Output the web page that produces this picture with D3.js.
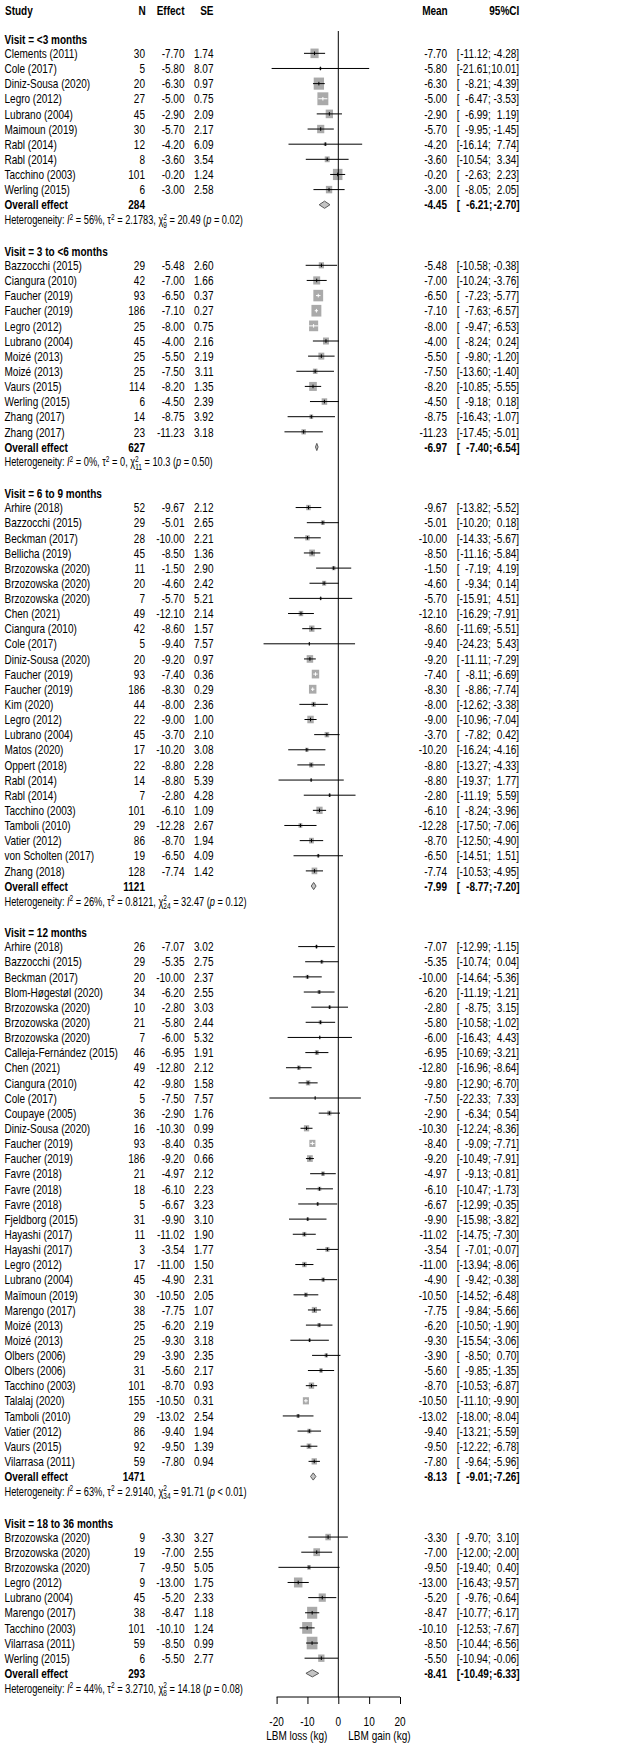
<!DOCTYPE html>
<html><head><meta charset="utf-8">
<script src="https://cdn.jsdelivr.net/npm/d3@7"></script>
<style>html,body{margin:0;padding:0;background:#fff}svg{display:block;font-family:"Liberation Sans",Arial,Helvetica,sans-serif}</style>
</head><body><svg id="c" width="626" height="1745"></svg>
<script>
// ---------- data ----------
const groupLabels = ["Visit = <3 months","Visit = 3 to <6 months","Visit = 6 to 9 months","Visit = 12 months","Visit = 18 to 36 months"];
const groupN = [284, 627, 1121, 1471, 293];
const groupMean = [-4.45, -6.97, -7.99, -8.13, -8.41];
const groupLower = [-6.21, -7.40, -8.77, -9.01, -10.49];
const groupUpper = [-2.70, -6.54, -7.20, -7.26, -6.33];
const groupI2 = ["56%", "0%", "26%", "63%", "44%"];
const groupTau2 = ["2.1783", "0", "0.8121", "2.9140", "3.2710"];
const groupDf = ["9", "11", "24", "34", "8"];
const groupChi2 = ["20.49", "10.3", "32.47", "91.71", "14.18"];
const groupP = ["= 0.02", "= 0.50", "= 0.12", "< 0.01", "= 0.08"];

const studyGroup = [
 0,0,0,0,0,0,0,0,0,0,
 1,1,1,1,1,1,1,1,1,1,1,1,
 2,2,2,2,2,2,2,2,2,2,2,2,2,2,2,2,2,2,2,2,2,2,2,2,2,
 3,3,3,3,3,3,3,3,3,3,3,3,3,3,3,3,3,3,3,3,3,3,3,3,3,3,3,3,3,3,3,3,3,3,3,
 4,4,4,4,4,4,4,4,4];
const study = [
 "Clements (2011)","Cole (2017)","Diniz-Sousa (2020)","Legro (2012)","Lubrano (2004)","Maimoun (2019)","Rabl (2014)","Rabl (2014)","Tacchino (2003)","Werling (2015)",
 "Bazzocchi (2015)","Ciangura (2010)","Faucher (2019)","Faucher (2019)","Legro (2012)","Lubrano (2004)","Moizé (2013)","Moizé (2013)","Vaurs (2015)","Werling (2015)","Zhang (2017)","Zhang (2017)",
 "Arhire (2018)","Bazzocchi (2015)","Beckman (2017)","Bellicha (2019)","Brzozowska (2020)","Brzozowska (2020)","Brzozowska (2020)","Chen (2021)","Ciangura (2010)","Cole (2017)","Diniz-Sousa (2020)","Faucher (2019)","Faucher (2019)","Kim (2020)","Legro (2012)","Lubrano (2004)","Matos (2020)","Oppert (2018)","Rabl (2014)","Rabl (2014)","Tacchino (2003)","Tamboli (2010)","Vatier (2012)","von Scholten (2017)","Zhang (2018)",
 "Arhire (2018)","Bazzocchi (2015)","Beckman (2017)","Blom-Høgestøl (2020)","Brzozowska (2020)","Brzozowska (2020)","Brzozowska (2020)","Calleja-Fernández (2015)","Chen (2021)","Ciangura (2010)","Cole (2017)","Coupaye (2005)","Diniz-Sousa (2020)","Faucher (2019)","Faucher (2019)","Favre (2018)","Favre (2018)","Favre (2018)","Fjeldborg (2015)","Hayashi (2017)","Hayashi (2017)","Legro (2012)","Lubrano (2004)","Maïmoun (2019)","Marengo (2017)","Moizé (2013)","Moizé (2013)","Olbers (2006)","Olbers (2006)","Tacchino (2003)","Talalaj (2020)","Tamboli (2010)","Vatier (2012)","Vaurs (2015)","Vilarrasa (2011)",
 "Brzozowska (2020)","Brzozowska (2020)","Brzozowska (2020)","Legro (2012)","Lubrano (2004)","Marengo (2017)","Tacchino (2003)","Vilarrasa (2011)","Werling (2015)"];
const n = [
 30,5,20,27,45,30,12,8,101,6,
 29,42,93,186,25,45,25,25,114,6,14,23,
 52,29,28,45,11,20,7,49,42,5,20,93,186,44,22,45,17,22,14,7,101,29,86,19,128,
 26,29,20,34,10,21,7,46,49,42,5,36,16,93,186,21,18,5,31,11,3,17,45,30,38,25,25,29,31,101,155,29,86,92,59,
 9,19,7,9,45,38,101,59,6];
const effect = [
 -7.70,-5.80,-6.30,-5.00,-2.90,-5.70,-4.20,-3.60,-0.20,-3.00,
 -5.48,-7.00,-6.50,-7.10,-8.00,-4.00,-5.50,-7.50,-8.20,-4.50,-8.75,-11.23,
 -9.67,-5.01,-10.00,-8.50,-1.50,-4.60,-5.70,-12.10,-8.60,-9.40,-9.20,-7.40,-8.30,-8.00,-9.00,-3.70,-10.20,-8.80,-8.80,-2.80,-6.10,-12.28,-8.70,-6.50,-7.74,
 -7.07,-5.35,-10.00,-6.20,-2.80,-5.80,-6.00,-6.95,-12.80,-9.80,-7.50,-2.90,-10.30,-8.40,-9.20,-4.97,-6.10,-6.67,-9.90,-11.02,-3.54,-11.00,-4.90,-10.50,-7.75,-6.20,-9.30,-3.90,-5.60,-8.70,-10.50,-13.02,-9.40,-9.50,-7.80,
 -3.30,-7.00,-9.50,-13.00,-5.20,-8.47,-10.10,-8.50,-5.50];
const se = [
 1.74,8.07,0.97,0.75,2.09,2.17,6.09,3.54,1.24,2.58,
 2.60,1.66,0.37,0.27,0.75,2.16,2.19,3.11,1.35,2.39,3.92,3.18,
 2.12,2.65,2.21,1.36,2.90,2.42,5.21,2.14,1.57,7.57,0.97,0.36,0.29,2.36,1.00,2.10,3.08,2.28,5.39,4.28,1.09,2.67,1.94,4.09,1.42,
 3.02,2.75,2.37,2.55,3.03,2.44,5.32,1.91,2.12,1.58,7.57,1.76,0.99,0.35,0.66,2.12,2.23,3.23,3.10,1.90,1.77,1.50,2.31,2.05,1.07,2.19,3.18,2.35,2.17,0.93,0.31,2.54,1.94,1.39,0.94,
 3.27,2.55,5.05,1.75,2.33,1.18,1.24,0.99,2.77];
const lower = [
 -11.12,-21.61,-8.21,-6.47,-6.99,-9.95,-16.14,-10.54,-2.63,-8.05,
 -10.58,-10.24,-7.23,-7.63,-9.47,-8.24,-9.80,-13.60,-10.85,-9.18,-16.43,-17.45,
 -13.82,-10.20,-14.33,-11.16,-7.19,-9.34,-15.91,-16.29,-11.69,-24.23,-11.11,-8.11,-8.86,-12.62,-10.96,-7.82,-16.24,-13.27,-19.37,-11.19,-8.24,-17.50,-12.50,-14.51,-10.53,
 -12.99,-10.74,-14.64,-11.19,-8.75,-10.58,-16.43,-10.69,-16.96,-12.90,-22.33,-6.34,-12.24,-9.09,-10.49,-9.13,-10.47,-12.99,-15.98,-14.75,-7.01,-13.94,-9.42,-14.52,-9.84,-10.50,-15.54,-8.50,-9.85,-10.53,-11.10,-18.00,-13.21,-12.22,-9.64,
 -9.70,-12.00,-19.40,-16.43,-9.76,-10.77,-12.53,-10.44,-10.94];
const upper = [
 -4.28,10.01,-4.39,-3.53,1.19,-1.45,7.74,3.34,2.23,2.05,
 -0.38,-3.76,-5.77,-6.57,-6.53,0.24,-1.20,-1.40,-5.55,0.18,-1.07,-5.01,
 -5.52,0.18,-5.67,-5.84,4.19,0.14,4.51,-7.91,-5.51,5.43,-7.29,-6.69,-7.74,-3.38,-7.04,0.42,-4.16,-4.33,1.77,5.59,-3.96,-7.06,-4.90,1.51,-4.95,
 -1.15,0.04,-5.36,-1.21,3.15,-1.02,4.43,-3.21,-8.64,-6.70,7.33,0.54,-8.36,-7.71,-7.91,-0.81,-1.73,-0.35,-3.82,-7.30,-0.07,-8.06,-0.38,-6.48,-5.66,-1.90,-3.06,0.70,-1.35,-6.87,-9.90,-8.04,-5.59,-6.78,-5.96,
 3.10,-2.00,0.40,-9.57,-0.64,-6.17,-7.67,-6.56,-0.06];
const xTicks = [-20, -10, 0, 10, 20];
const axisLabels = ["LBM loss (kg)", "LBM gain (kg)"];
const colHeaders = ["Study", "N", "Effect", "SE", "Mean", "95%CI"];

// ---------- layout ----------
const SX = 0.77, FS = 13, FSH = 12;
const ROW0 = 38.2, ROWH = 15.14;
const colX = {study: 4.5, n: 145, eff: 184.5, se: 213.5, mean: 447, ciL: 456.7, lowEnd: 487.9, upEnd: 516.3};
const TAU_BOX = 2.5, BOXK = 28;
const svg = d3.select("#c");
const x = d3.scaleLinear().domain([-20, 20]).range([276.6, 400.0]);
const yRow = L => ROW0 + L * ROWH;
const fmt2 = d3.format(".2f");
const fmtN = v => (v < 0 ? "-" : "") + fmt2(Math.abs(v));

function txt(xp, yp, s, anchor = "start", weight = "normal", size = FS) {
  return svg.append("text")
    .attr("transform", `translate(${xp},${(yp + size * 0.36).toFixed(2)}) scale(${SX},1)`)
    .attr("text-anchor", anchor).attr("font-size", size).attr("font-weight", weight)
    .attr("fill", "#000").text(s);
}
function ciText(yp, lo, hi, weight) {
  const k = weight === "bold" ? 1.0 : 0;
  txt(colX.ciL, yp, "[", "start", weight);
  txt(colX.lowEnd + k, yp, fmtN(lo), "end", weight);
  txt(colX.lowEnd + k, yp, ";", "start", weight);
  txt(colX.upEnd, yp, fmtN(hi), "end", weight);
  txt(colX.upEnd, yp, "]", "start", weight);
}

// header
const yHead = 10;
txt(5, yHead, colHeaders[0], "start", "bold");
txt(colX.n + 0.7, yHead, colHeaders[1], "end", "bold");
txt(colX.eff, yHead, colHeaders[2], "end", "bold");
txt(colX.se, yHead, colHeaders[3], "end", "bold");
txt(colX.mean + 0.7, yHead, colHeaders[4], "end", "bold");
txt(519.3, yHead, colHeaders[5], "end", "bold");

// weights for box sizes (random-effects weights, share within subgroup)
const wRaw = se.map(s => 1 / (s * s + TAU_BOX));
const gSum = groupLabels.map((_, g) => d3.sum(wRaw.filter((_, i) => studyGroup[i] === g)));
const boxH = wRaw.map((w, i) => BOXK * Math.sqrt(w / gSum[studyGroup[i]]));

let L = 0;
groupLabels.forEach((lab, g) => {
  txt(colX.study, yRow(L) + 1, lab, "start", "bold");
  L++;
  study.forEach((s, i) => {
    if (studyGroup[i] !== g) return;
    const y = yRow(L);
    txt(colX.study, y, s);
    txt(colX.n, y, String(n[i]), "end");
    txt(colX.eff, y, fmtN(effect[i]), "end");
    txt(colX.se, y, fmt2(se[i]), "end");
    txt(colX.mean, y, fmtN(effect[i]), "end");
    ciText(y, lower[i], upper[i], "normal");
    const h = boxH[i], w = h * 0.85, cx = x(effect[i]);
    svg.append("rect").attr("x", cx - w / 2).attr("y", y - h / 2).attr("width", w).attr("height", h)
      .attr("fill", "#aaaaaa");
    const inside = x(lower[i]) >= cx - w / 2 && x(upper[i]) <= cx + w / 2;
    const col = inside ? "#ffffff" : "#000000";
    svg.append("line").attr("x1", x(lower[i])).attr("x2", x(upper[i])).attr("y1", y).attr("y2", y)
      .attr("stroke", col).attr("stroke-width", 1);
    svg.append("line").attr("x1", cx).attr("x2", cx).attr("y1", y - 1.8).attr("y2", y + 1.8)
      .attr("stroke", col).attr("stroke-width", 1);
    L++;
  });
  // overall
  const y = yRow(L);
  txt(colX.study, y, "Overall effect", "start", "bold");
  txt(colX.n, y, String(groupN[g]), "end", "bold");
  txt(colX.mean, y, fmtN(groupMean[g]), "end", "bold");
  ciText(y, groupLower[g], groupUpper[g], "bold");
  const dh = 3.6;
  svg.append("path")
    .attr("d", `M${x(groupLower[g])},${y}L${x(groupMean[g])},${y - dh}L${x(groupUpper[g])},${y}L${x(groupMean[g])},${y + dh}Z`)
    .attr("fill", "#c4c4c4").attr("stroke", "#5a5a5a").attr("stroke-width", 1);
  L++;
  // heterogeneity
  const yh = yRow(L);
  const t = svg.append("text")
    .attr("transform", `translate(${colX.study},${(yh + FSH * 0.36).toFixed(2)}) scale(${SX},1)`)
    .attr("font-size", FSH).attr("fill", "#000");
  t.append("tspan").text("Heterogeneity: ");
  t.append("tspan").attr("font-style", "italic").text("I");
  t.append("tspan").attr("font-size", 8.5).attr("dy", -4.5).text("2");
  t.append("tspan").attr("dy", 4.5).text(` = ${groupI2[g]}, \u03c4`);
  t.append("tspan").attr("font-size", 8.5).attr("dy", -4.5).text("2");
  t.append("tspan").attr("dy", 4.5).text(` = ${groupTau2[g]}, \u03c7`);
  t.append("tspan").attr("font-size", 8.5).attr("dy", -4.5).text("2");
  t.append("tspan").attr("font-size", 8.5).attr("dx", -4.7).attr("dy", 8).text(groupDf[g]);
  t.append("tspan").attr("dy", -3.5).text(` = ${groupChi2[g]} (`);
  t.append("tspan").attr("font-style", "italic").text("p");
  t.append("tspan").text(` ${groupP[g]})`);
  L += 2;
});

// zero line
const axisY = 1697;
svg.append("line").attr("x1", x(0)).attr("x2", x(0)).attr("y1", 31).attr("y2", axisY)
  .attr("stroke", "#000").attr("stroke-width", 1);

// axis
const axis = d3.axisBottom(x).tickValues(xTicks).tickSize(7).tickPadding(5).tickFormat(d3.format("d"));
const ga = svg.append("g").attr("transform", `translate(0,${axisY})`).call(axis);
ga.select(".domain").attr("d", `M${x(-20)},0H${x(20)}`).attr("stroke", "#000");
ga.selectAll(".tick line").attr("stroke", "#000");
ga.selectAll(".tick text").remove();
xTicks.forEach(v => txt(x(v), 1721, String(v), "middle"));
txt(x(0) - 11, 1735, axisLabels[0], "end");
txt(x(0) + 10, 1735, axisLabels[1], "start");
</script></body></html>
